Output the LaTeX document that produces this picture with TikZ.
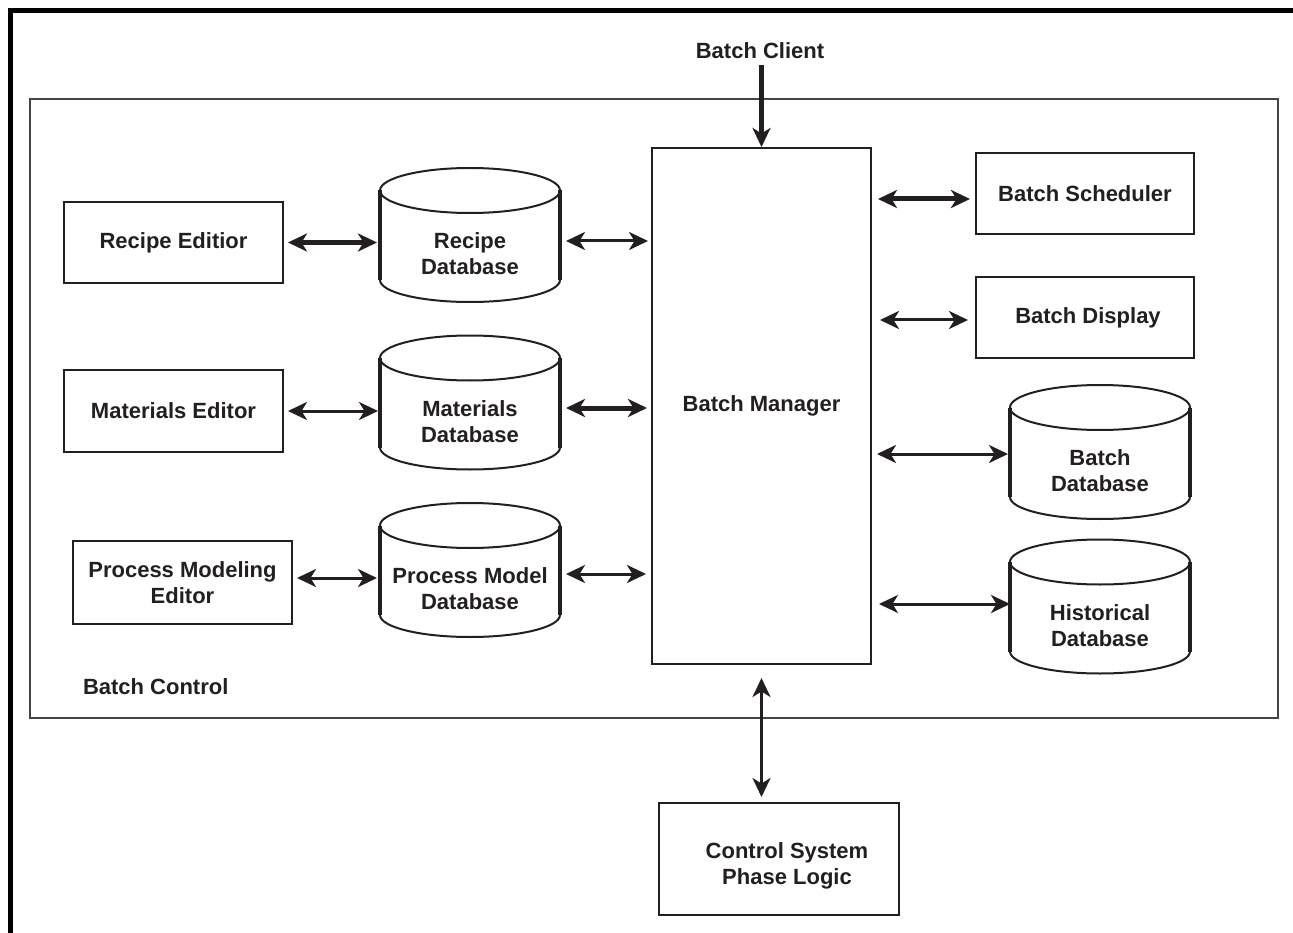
\documentclass[tikz,border=0pt]{standalone}
\usepackage{fontspec}
\setmainfont{Liberation Sans}
\usetikzlibrary{arrows.meta,calc}
\definecolor{ink}{HTML}{231F20}
\definecolor{framegray}{HTML}{444444}
\newcommand\drawdb[1]{%
  \draw[cylthin] let \p1=(#1.north west), \p2=(#1.south east), \p3=(#1.north) in
    (\x3,\y1+15.5pt) ellipse[x radius=90pt,y radius=22.5pt]
    (\x1,\y2+22pt) arc[start angle=180,end angle=360,x radius=90pt,y radius=22pt];
  \draw[cylside] let \p1=(#1.north west), \p2=(#1.south east) in
    (\x1,\y1+15.5pt) -- (\x1,\y2+22pt)
    (\x2,\y1+15.5pt) -- (\x2,\y2+22pt);
}
\begin{document}
\begin{tikzpicture}[x=1pt,y=-1pt,
  every node/.style={font=\fontsize{22}{26}\selectfont\bfseries, text=ink, align=center, inner sep=0pt, outer sep=0pt},
  box/.style={draw=ink, line width=2.6pt, minimum width=219pt, minimum height=81pt},
  dbtext/.style={minimum width=180pt, minimum height=96pt},
  cylthin/.style={draw=ink, line width=2pt},
  cylside/.style={draw=ink, line width=4.5pt},
  tip/.tip={Stealth[length=19pt,width=18pt,inset=5.5pt]},
  darr/.style={draw=ink, line width=3pt, tip-tip},
  darrthick/.style={draw=ink, line width=5pt, tip-tip},
  sarr/.style={draw=ink, line width=5pt, -tip},
]
\fill[white] (0,0) rectangle (1293,933);
\useasboundingbox (0,0) rectangle (1293,933);
% outer frame (cut off at right and bottom)
\draw[line width=5.3pt, black] (1300,10.5) -- (10.5,10.5) -- (10.5,940);

% Batch Control container
\node[draw=framegray, line width=2pt, minimum width=1248pt, minimum height=619pt] (bctl) at (654,408.5) {};
\node[anchor=west] (bctllbl) at (83,687) {Batch Control};

% editors
\node[box] (re) at (173.5,242.5) {Recipe Editior};
\node[box, minimum height=82pt] (me) at (173.5,411) {Materials Editor};
\node[box, minimum height=83pt] (pe) at (182.5,582.5) {Process Modeling\\Editor};

% databases
\node[dbtext] (rdb) at (470,254) {Recipe\\Database};
\node[dbtext] (mdb) at (470,421.5) {Materials\\Database};
\node[dbtext] (pdb) at (470,589) {Process Model\\Database};
\node[dbtext] (bdb) at (1100,471) {Batch\\Database};
\node[dbtext] (hdb) at (1100,625.5) {Historical\\Database};
\drawdb{rdb}
\drawdb{mdb}
\drawdb{pdb}
\drawdb{bdb}
\drawdb{hdb}

% batch manager and right side boxes
\node[box, minimum height=516pt] (bm) at (761.5,406) {Batch Manager};
\node[box, minimum width=218pt] (bs) at (1085,193.5) {Batch Scheduler};
\node[box, minimum width=218pt] (bd) at (1085,317.5) {\hspace*{6pt}Batch Display};

% outside
\node (bc) at (760,50.5) {Batch Client};
\node[box, minimum width=240pt, minimum height=112pt,
      label={[name=cstxt, xshift=8pt, yshift=-7pt]center:{Control System\\Phase Logic}}] (cs) at (779,859) {};

% connectors
\draw[darrthick, shorten <=5pt, shorten >=3pt] (re.east) -- (re.east -| rdb.west);
\coordinate (c1) at ([yshift=13pt]rdb.east);
\draw[darr, shorten <=6pt, shorten >=4pt] (c1) -- (c1 -| bm.west);
\draw[darr, shorten <=5pt, shorten >=2pt] (me.east) -- (me.east -| mdb.west);
\coordinate (c2) at ([yshift=13.5pt]mdb.east);
\draw[darrthick, shorten <=6pt, shorten >=5pt] (c2) -- (c2 -| bm.west);
\coordinate (c3) at ([yshift=4.5pt]pe.east);
\draw[darr, shorten <=5pt, shorten >=3pt] (c3) -- (c3 -| pdb.west);
\coordinate (c4) at ([yshift=15pt]pdb.east);
\draw[darr, shorten <=6pt, shorten >=6pt] (c4) -- (c4 -| bm.west);

\coordinate (c5) at ([yshift=-5.5pt]bs.west);
\draw[darrthick, shorten <=7pt, shorten >=6pt] (c5 -| bm.east) -- (c5);
\coordinate (c6) at ([yshift=-2.5pt]bd.west);
\draw[darr, shorten <=9pt, shorten >=8pt] (c6 -| bm.east) -- (c6);
\coordinate (c7) at ([yshift=17pt]bdb.west);
\draw[darr, shorten <=6pt, shorten >=2pt] (c7 -| bm.east) -- (c7);
\coordinate (c8) at ([yshift=21.5pt]hdb.west);
\draw[darr, shorten <=8pt, shorten >=0pt] (c8 -| bm.east) -- (c8);

\draw[sarr, shorten <=6pt, shorten >=1pt] (bm.north |- bc.south) -- (bm.north);
\draw[darr, shorten <=14pt, shorten >=6pt] (bm.south) -- (bm.south |- cs.north);
\end{tikzpicture}
\end{document}
